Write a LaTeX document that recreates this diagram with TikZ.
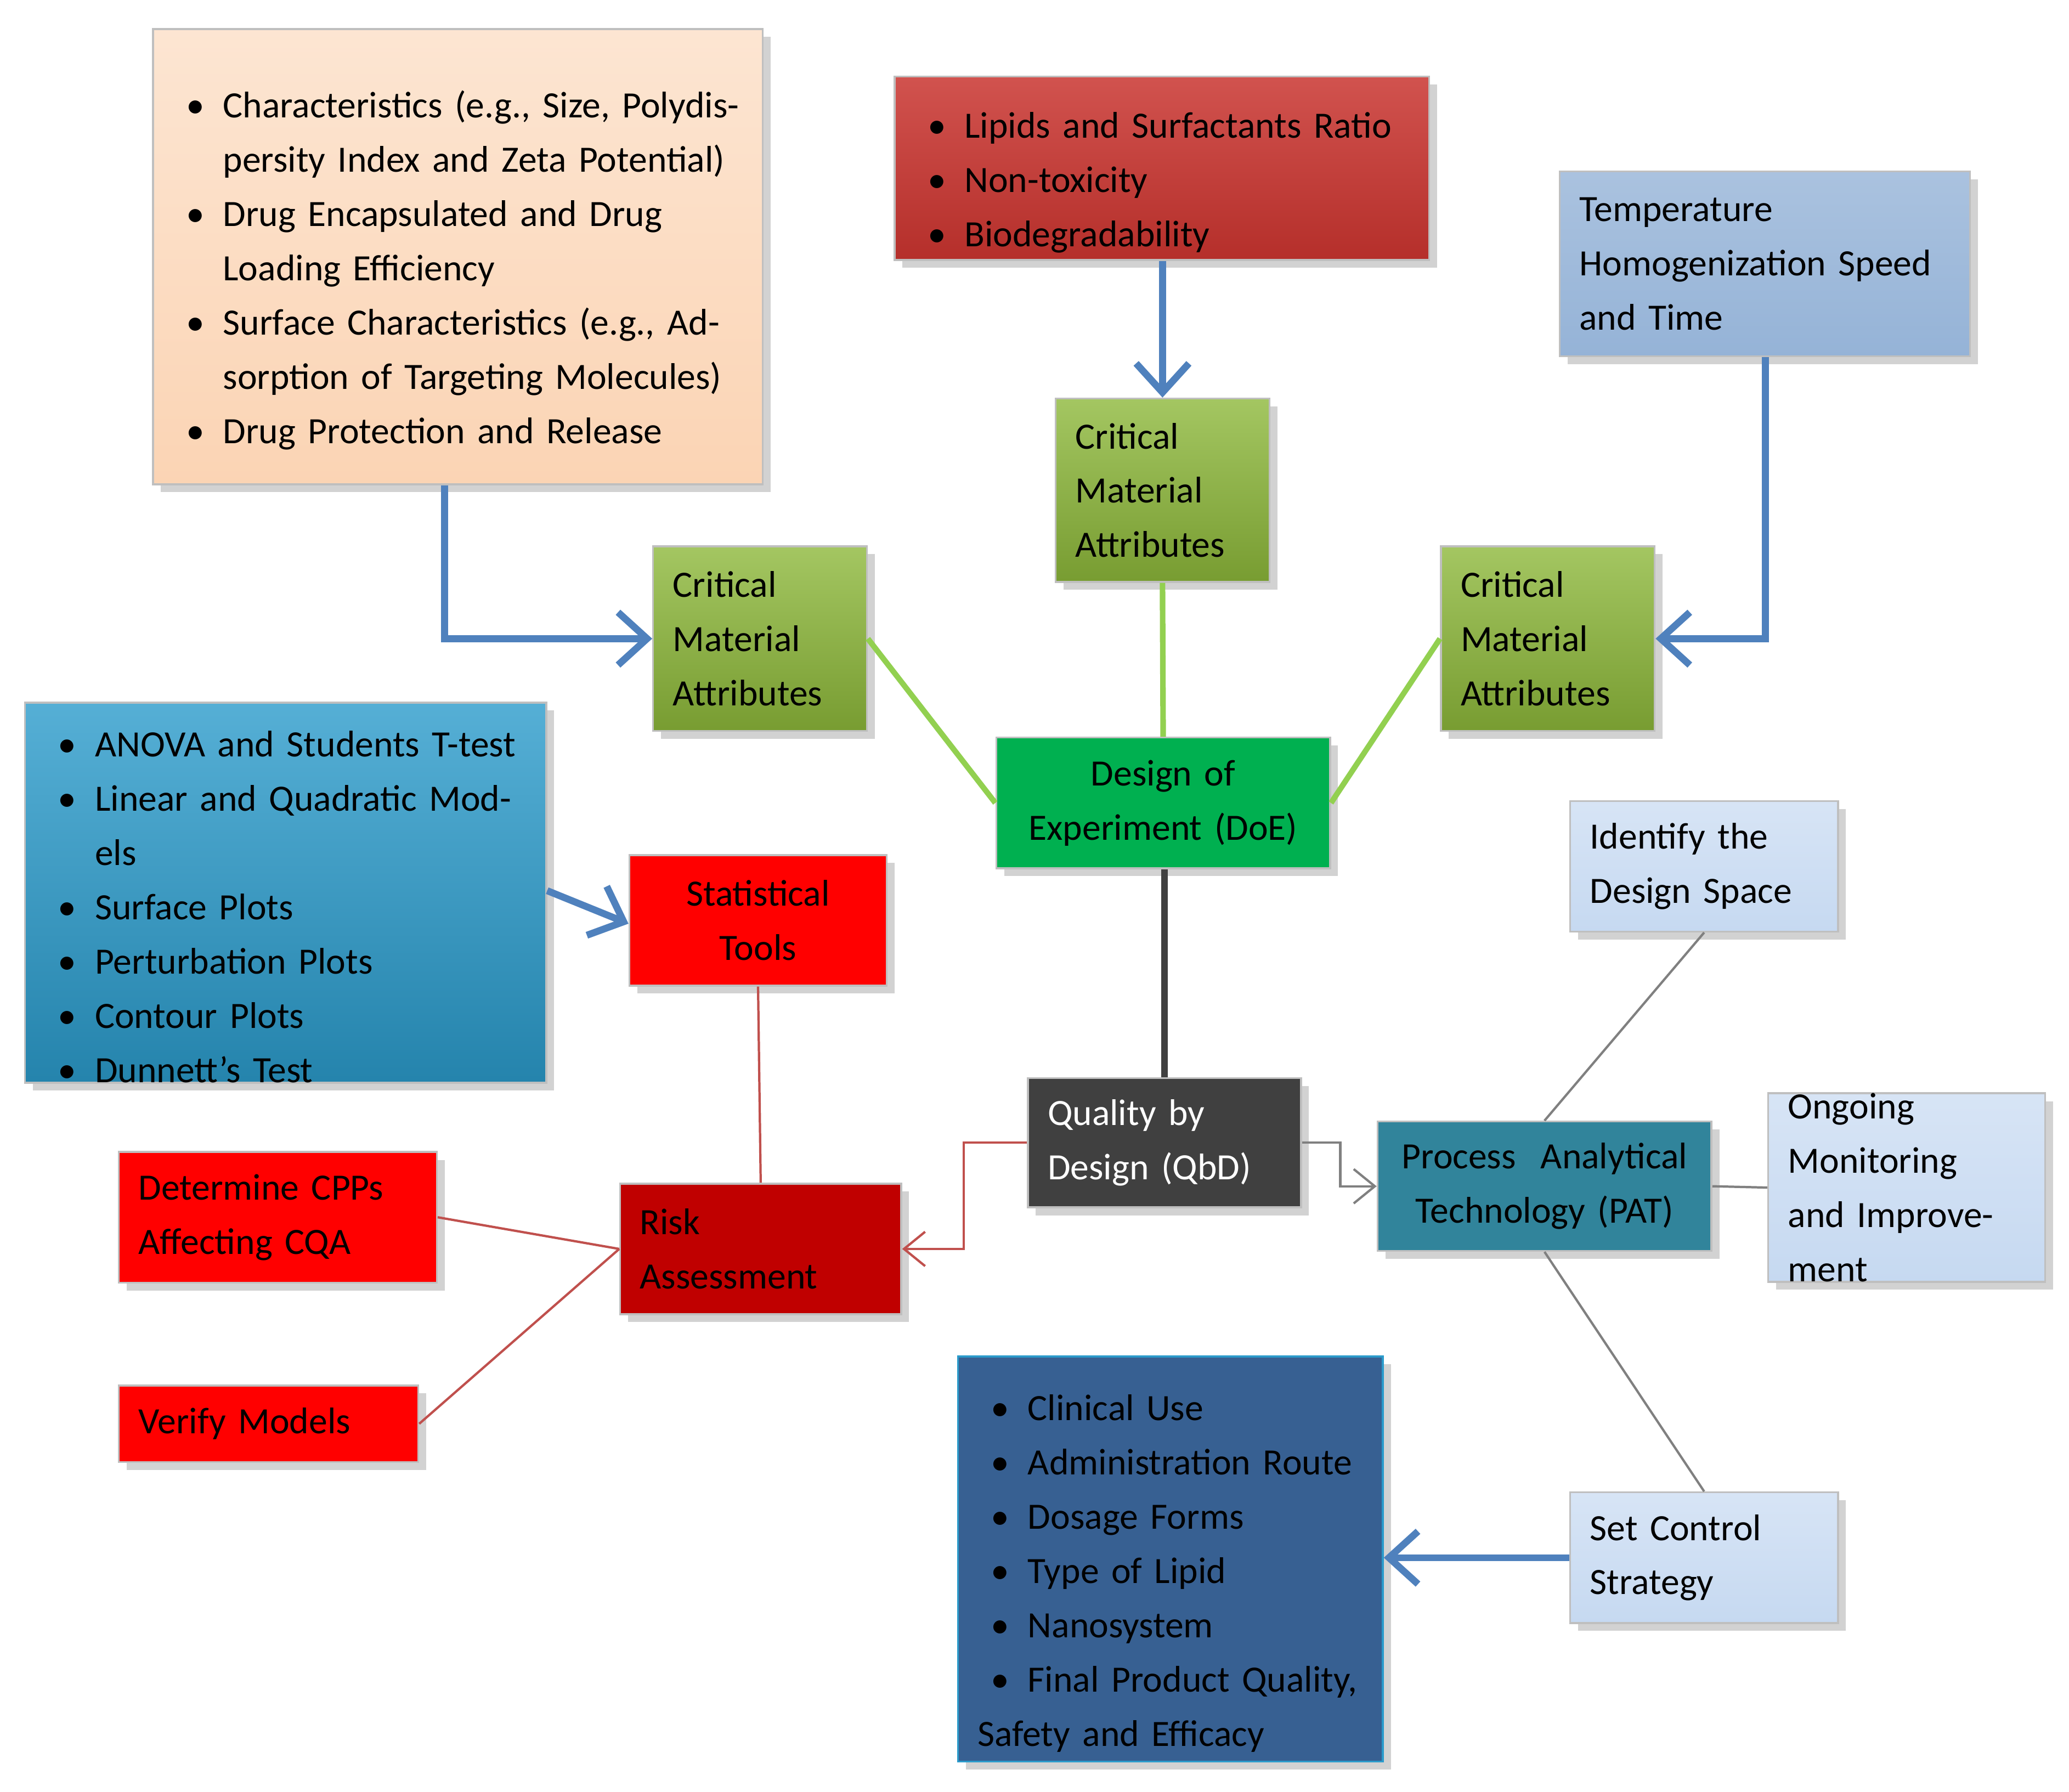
\documentclass[tikz,border=0pt]{standalone}
\usepackage{fontspec}
\setmainfont{Carlito}
\usetikzlibrary{shadows,arrows.meta}
\definecolor{orng}{HTML}{FBD4B4}
\definecolor{redA}{HTML}{C9342F}
\definecolor{ltblue}{HTML}{95B3D7}
\definecolor{paleblue}{HTML}{C6D9F1}
\definecolor{cma}{HTML}{8DB83A}
\definecolor{doe}{HTML}{00B050}
\definecolor{cyanb}{HTML}{2B9BCB}
\definecolor{redB}{HTML}{FF0000}
\definecolor{redC}{HTML}{C00000}
\definecolor{qbd}{HTML}{404040}
\definecolor{pat}{HTML}{31849B}
\definecolor{dkblue}{HTML}{376092}
\definecolor{arrblue}{HTML}{4F81BD}
\definecolor{grn}{HTML}{92D050}
\definecolor{lred}{HTML}{C0504D}
\newcommand{\bx}[7]{\node[box,#6,minimum width={(#4-#2)*0.1mm},minimum height={(#5-#3)*0.1mm},text width={(#4-#2-30)*0.1mm}] (#1) at ({(#2+#4)/2},{(#3+#5)/2}) {#7};}
\newcommand{\bi}{\par\hangindent=3.8mm\hangafter=1\noindent\makebox[3.8mm][l]{\hspace{1mm}\textbullet}}
\tikzset{box/.style={draw=black!25,line width=0.4pt,inner sep=0pt,align=left,drop shadow={opacity=0.35,shadow xshift=0.6mm,shadow yshift=-0.6mm},font=\fontsize{8}{11.7}\selectfont},
  thk/.style={draw=arrblue,line width=1.5pt,-{Straight Barb[length=2.2mm,width=4mm,line width=1.5pt]}},
  thin/.style={line width=0.5pt}}
\begin{document}
\begin{tikzpicture}[x=0.1mm,y=-0.1mm]
\useasboundingbox (0,0) rectangle (1568,1358);
\fill[white] (0,0) rectangle (1568,1358);
\bx{o}{116}{22}{578}{367}{top color=orng!60,bottom color=orng}{\bi Characteristics (e.g., Size, Polydispersity Index and Zeta Potential)\bi Drug Encapsulated and Drug Loading Efficiency\bi Surface Characteristics (e.g., Adsorption of Targeting Molecules)\bi Drug Protection and Release}
\bx{r}{678}{58}{1083}{197}{top color=redA!85!white,bottom color=redA!90!black}{\bi Lipids and Surfactants Ratio\bi Non-toxicity\bi Biodegradability}
\bx{tb}{1182}{130}{1493}{270}{top color=ltblue!80,bottom color=ltblue}{Temperature\\Homogenization Speed and Time}
\bx{c1}{800}{302}{962}{441}{top color=cma!80!white,bottom color=cma!85!black}{Critical\\Material\\Attributes}
\bx{c2}{495}{414}{657}{554}{top color=cma!80!white,bottom color=cma!85!black}{Critical\\Material\\Attributes}
\bx{c3}{1092}{414}{1254}{554}{top color=cma!80!white,bottom color=cma!85!black}{Critical\\Material\\Attributes}
\bx{d}{755}{559}{1008}{658}{fill=doe,align=center}{Design of\\Experiment (DoE)}
\bx{cy}{19}{545}{414}{808}{top color=cyanb!80!white,bottom color=cyanb!85!black}{\bi ANOVA and Students T-test\bi Linear and Quadratic Models\bi Surface Plots\bi Perturbation Plots\bi Contour Plots\bi Dunnett’s Test}
\bx{st}{477}{648}{672}{747}{fill=redB,align=center}{Statistical\\Tools}
\bx{id}{1190}{607}{1393}{706}{top color=paleblue!70,bottom color=paleblue}{Identify the\\Design Space}
\bx{q}{779}{817}{986}{915}{fill=qbd,text=white}{Quality by\\Design (QbD)}
\bx{p}{1044}{850}{1297}{948}{fill=pat,align=center}{Process~ Analytical\\Technology (PAT)}
\bx{og}{1340}{830}{1550}{970}{top color=paleblue!70,bottom color=paleblue}{Ongoing\\Monitoring and Improvement}
\bx{dc}{90}{873}{331}{972}{fill=redB}{Determine CPPs\\Affecting CQA}
\bx{ra}{470}{897}{683}{996}{fill=redC}{Risk\\Assessment}
\bx{v}{90}{1050}{317}{1108}{fill=redB}{Verify Models}
\bx{db}{726}{1028}{1048}{1335}{fill=dkblue,draw=cyanb}{\bi Clinical Use\bi Administration Route\bi Dosage Forms\bi Type of Lipid\bi Nanosystem\bi Final Product Quality, Safety and Efficacy}
\bx{sc}{1190}{1131}{1393}{1230}{top color=paleblue!70,bottom color=paleblue}{Set Control\\Strategy}
% connectors
\draw[thk] (o.south -| 337,0) |- (c2.west);
\draw[thk] (r.south -| c1.north) -- (c1.north);
\draw[thk] (tb.south -| 1338,0) |- (c3.east);
\draw[grn,line width=1.2pt] (c2.east) -- (d.west);
\draw[grn,line width=1.2pt] (c1.south) -- (d.north);
\draw[grn,line width=1.2pt] (c3.west) -- (d.east);
\draw[qbd,line width=1.4pt] (d.south -| q.north) -- (q.north);
\draw[thk] (cy.east |- 0,675) -- (st.west |- 0,700);
\draw[lred,thin] (st.south) -- (ra.north);
\draw[lred,thin,-{Straight Barb[length=1.6mm,width=2.6mm]}] (q.west) -- ++(-48,0) |- (ra.east);
\draw[gray,thin,-{Straight Barb[length=1.6mm,width=2.6mm]}] (q.east) -- ++(29,0) |- (p.west);
\draw[gray,thin] (p.north) -- (id.south);
\draw[gray,thin] (p.east) -- (og.west);
\draw[gray,thin] (p.south) -- (sc.north);
\draw[thk] (sc.west) -- (db.east |- sc.west);
\draw[lred,thin] (ra.west) -- (dc.east);
\draw[lred,thin] (ra.west) -- (v.east);
\end{tikzpicture}
\end{document}
